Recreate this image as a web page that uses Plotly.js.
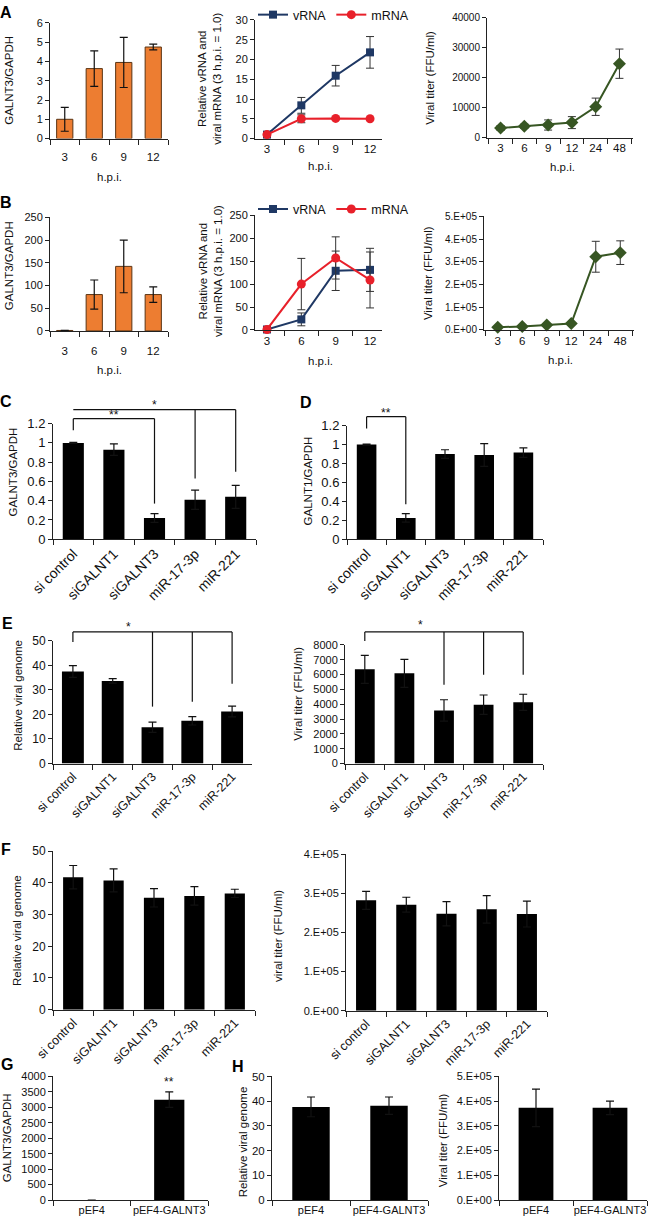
<!DOCTYPE html>
<html><head><meta charset="utf-8">
<script src="https://cdn.plot.ly/plotly-3.0.1.min.js"></script>
<style>html,body{margin:0;padding:0;background:#fff}#plot{width:650px;height:1222px}</style>
</head><body><div id="plot"></div>
<script>
// ---------- DATA ----------
const hpiShort = ['3','6','9','12'];
const hpiLong = ['3','6','9','12','24','48'];
const aGalnt3 = [1.0, 3.63, 3.95, 4.75];
const aGalnt3Err = [0.62, 0.92, 1.3, 0.15];
const aVRNA = [1, 8.4, 15.9, 21.8];
const aVRNAErr = [0.2, 2.0, 2.6, 4.0];
const aMRNA = [1, 5.0, 5.1, 5.0];
const aMRNAErr = [0.2, 1.0, 0.3, 0.3];
const aTiter = [3200, 3800, 4200, 5000, 10300, 24700];
const aTiterErr = [800, 700, 1700, 2000, 2900, 4900];
const bGalnt3 = [1, 80, 142, 80];
const bGalnt3Err = [0.5, 32, 58, 17];
const bVRNA = [1, 23, 129, 131];
const bVRNAErr = [0.5, 14, 43, 47];
const bMRNA = [1, 100, 157, 109];
const bMRNAErr = [0.5, 56, 46, 61];
const bTiter = [12000, 15000, 22000, 28000, 322000, 340000];
const bTiterErr = [3000, 3000, 4000, 4000, 68000, 52000];
const siCats = ['si control','siGALNT1','siGALNT3','miR-17-3p','miR-221'];
const cGalnt3 = [1.0, 0.93, 0.22, 0.41, 0.44];
const cGalnt3Err = [0.005, 0.06, 0.045, 0.1, 0.12];
const dGalnt1 = [1.0, 0.225, 0.9, 0.89, 0.915];
const dGalnt1Err = [0.005, 0.045, 0.045, 0.12, 0.05];
const eGenome = [37.5, 33.7, 14.8, 17.4, 21.2];
const eGenomeErr = [2.4, 0.9, 2.1, 1.7, 2.2];
const eTiter = [6350, 6080, 3580, 3970, 4130];
const eTiterErr = [950, 950, 720, 650, 540];
const fGenome = [41.8, 40.8, 35.3, 35.9, 36.7];
const fGenomeErr = [3.7, 3.6, 2.9, 2.9, 1.3];
const fTiter = [282000, 271000, 248000, 259000, 247000];
const fTiterErr = [23000, 19000, 31000, 35000, 33000];
const gCats = ['pEF4','pEF4-GALNT3'];
const gGalnt3 = [1, 3250];
const gGalnt3Err = [0, 250];
const hGenome = [37.7, 38.2];
const hGenomeErr = [4.0, 3.5];
const hTiter = [373000, 373000];
const hTiterErr = [76000, 27000];
const sciTickVals5 = [0, 100000, 200000, 300000, 400000, 500000];
const sciTickText5 = ['0.E+00','1.E+05','2.E+05','3.E+05','4.E+05','5.E+05'];
const sciTickVals4 = [0, 100000, 200000, 300000, 400000];
const sciTickText4 = ['0.E+00','1.E+05','2.E+05','3.E+05','4.E+05'];

// ---------- LAYOUT HELPERS ----------
const W = 650, H = 1222;
const FONT = 'Liberation Sans, Arial, sans-serif';
const px = x => x / W;
const py = y => 1 - y / H;
const ORANGE = '#ED7D31', NAVY = '#1F3864', RED = '#E8202A', GREEN = '#375623', AX = '#222';

const layout = {
  width: W, height: H, margin: {l:0, r:0, t:0, b:0},
  paper_bgcolor: '#fff', plot_bgcolor: 'rgba(0,0,0,0)',
  font: {family: FONT, size: 11, color: '#111'},
  showlegend: true, annotations: [], shapes: []
};
const data = [];
const panels = {};

function addPanel(n, p) {
  panels[n] = p;
  const xs = n === 1 ? 'xaxis' : 'xaxis' + n;
  const ys = n === 1 ? 'yaxis' : 'yaxis' + n;
  layout[xs] = {
    domain: [px(p.l), px(p.r)], anchor: n === 1 ? 'y' : 'y' + n,
    type: 'category', showline: true, linecolor: AX, linewidth: 1,
    ticks: 'outside', ticklen: 5, tickcolor: AX, tickwidth: 1, tickson: 'boundaries',
    showgrid: false, zeroline: false, fixedrange: true,
    tickangle: p.angle || 0, ticklabelstandoff: p.xstand || 0,
    tickfont: {family: FONT, size: p.xfont || 11.5, color: '#111'}
  };
  const y = {
    domain: [py(p.b), py(p.t)], anchor: n === 1 ? 'x' : 'x' + n,
    range: [0, p.max], showline: true, linecolor: AX, linewidth: 1,
    ticks: 'outside', ticklen: 4, tickcolor: AX, tickwidth: 1,
    showgrid: false, zeroline: false, fixedrange: true,
    tickfont: {family: FONT, size: p.yfont || 11.5, color: '#111'}
  };
  if (p.tickvals) { y.tickmode = 'array'; y.tickvals = p.tickvals; y.ticktext = p.ticktext; }
  else { y.tick0 = 0; y.dtick = p.dtick; if (p.fmt) y.tickformat = p.fmt; }
  layout[ys] = y;
}
const xr = n => n === 1 ? 'x' : 'x' + n;
const yr = n => n === 1 ? 'y' : 'y' + n;

function bar(n, x, y, err, color, width, lineColor) {
  data.push({type:'bar', x, y, xaxis: xr(n), yaxis: yr(n), width, showlegend:false,
    marker:{color, line:{color: lineColor || color, width: lineColor ? 1 : 0}},
    error_y:{type:'data', array: err, visible:true, color:'#111', thickness:1.2, width:4},
    hoverinfo:'skip'});
}
function line(n, x, y, err, color, symbol, size, name, legend) {
  data.push({type:'scatter', mode:'lines+markers', x, y, xaxis: xr(n), yaxis: yr(n),
    name, showlegend: !!legend, legend: legend || 'legend',
    line:{color, width:2}, marker:{color, symbol, size},
    error_y:{type:'data', array: err, visible:true, color:'#333', thickness:1, width:4},
    cliponaxis:false, hoverinfo:'skip'});
}
function ann(text, x, y, o) {
  layout.annotations.push(Object.assign({text, x: px(x), y: py(y), xref:'paper', yref:'paper',
    showarrow:false, xanchor:'center', yanchor:'middle',
    font:{family: FONT, size: 11.5, color:'#111'}}, o || {}));
}
function yTitle(text, x, y) { ann(text, x, y, {textangle: -90}); }
function letter(t, x, y) { ann(t, x, y, {font:{family: FONT, size: 16, color:'#000', weight:'bold'}}); }
function dataPaper(n, v) { const p = panels[n]; return py(p.b - v / p.max * (p.b - p.t)); }
function bracket(n, yLine, i0, i1, drops, label, labelX, labelY) {
  const s = {type:'line', xref: xr(n), yref:'paper', line:{color:'#111', width:1.2}};
  layout.shapes.push(Object.assign({}, s, {x0:i0, x1:i1, y0:py(yLine), y1:py(yLine)}));
  drops.forEach(d => layout.shapes.push(Object.assign({}, s, {x0:d[0], x1:d[0], y0:py(yLine), y1:dataPaper(n, d[1])})));
  layout.annotations.push({text: label, x: labelX, y: py(labelY), xref: xr(n), yref:'paper', showarrow:false,
    xanchor:'center', yanchor:'middle', font:{family: FONT, size: 12, color:'#111'}});
}

// ---------- PANELS ----------
addPanel(1, {l:50, r:168, t:19, b:135, max:6, dtick:1, xstand:8, yfont:11});
addPanel(2, {l:255, r:382, t:16, b:135, max:30, dtick:5, yfont:11});
addPanel(3, {l:487, r:633, t:14, b:134, max:40000, dtick:10000, fmt:'d', yfont:10});
addPanel(4, {l:50, r:168, t:214, b:328, max:250, dtick:50, xstand:9, yfont:11});
addPanel(5, {l:255, r:382, t:212, b:327, max:250, dtick:50, yfont:11});
addPanel(6, {l:484, r:634, t:213, b:327, max:500000, tickvals: sciTickVals5, ticktext: sciTickText5, yfont:10});
addPanel(7, {l:53, r:256, t:421, b:537, max:1.2, dtick:0.2, angle:-45, xfont:14, yfont:13});
addPanel(8, {l:347, r:543, t:423, b:537, max:1.2, dtick:0.2, angle:-45, xfont:14, yfont:13});
addPanel(9, {l:53, r:252, t:639, b:762, max:50, dtick:10, angle:-45, xfont:12.5, yfont:12});
addPanel(10, {l:345, r:543, t:643, b:762, max:8000, dtick:1000, fmt:'d', angle:-45, xfont:12.5, yfont:11});
addPanel(11, {l:53, r:255, t:850, b:1009, max:50, dtick:10, angle:-45, xfont:12.5, yfont:12});
addPanel(12, {l:346, r:547, t:853, b:1010, max:400000, tickvals: sciTickVals4, ticktext: sciTickText4, yfont:11, angle:-45, xfont:12.5});
addPanel(13, {l:53, r:208, t:1076, b:1200, max:4000, dtick:500, fmt:'d', xfont:11, yfont:11});
addPanel(14, {l:272, r:428, t:1076, b:1200, max:50, dtick:10, xfont:11, yfont:11.5});
addPanel(15, {l:499, r:647, t:1076, b:1200, max:500000, tickvals: sciTickVals5, ticktext: sciTickText5, xfont:11, yfont:11});

// ---------- TRACES ----------
bar(1, hpiShort, aGalnt3, aGalnt3Err, ORANGE, 0.55, '#5a3413');
line(2, hpiShort, aVRNA, aVRNAErr, NAVY, 'square', 8, 'vRNA', 'legend');
line(2, hpiShort, aMRNA, aMRNAErr, RED, 'circle', 9, 'mRNA', 'legend');
line(3, hpiLong, aTiter, aTiterErr, GREEN, 'diamond', 10);
bar(4, hpiShort, bGalnt3, bGalnt3Err, ORANGE, 0.55, '#5a3413');
line(5, hpiShort, bVRNA, bVRNAErr, NAVY, 'square', 8, 'vRNA', 'legend2');
line(5, hpiShort, bMRNA, bMRNAErr, RED, 'circle', 9, 'mRNA', 'legend2');
line(6, hpiLong, bTiter, bTiterErr, GREEN, 'diamond', 10);
bar(7, siCats, cGalnt3, cGalnt3Err, '#000', 0.52);
bar(8, siCats, dGalnt1, dGalnt1Err, '#000', 0.5);
bar(9, siCats, eGenome, eGenomeErr, '#000', 0.55);
bar(10, siCats, eTiter, eTiterErr, '#000', 0.5);
bar(11, siCats, fGenome, fGenomeErr, '#000', 0.5);
bar(12, siCats, fTiter, fTiterErr, '#000', 0.5);
bar(13, gCats, gGalnt3, gGalnt3Err, '#000', 0.39);
bar(14, gCats, hGenome, hGenomeErr, '#000', 0.48);
bar(15, gCats, hTiter, hTiterErr, '#000', 0.47);

const legBase = {orientation:'h', xanchor:'left', yanchor:'top', bgcolor:'rgba(0,0,0,0)',
  font:{family: FONT, size: 12.5, color:'#111'}, itemwidth:30, tracegroupgap:0};
layout.legend = Object.assign({}, legBase, {x: px(253), y: py(-4)});
layout.legend2 = Object.assign({}, legBase, {x: px(253), y: py(191)});

// ---------- TEXT ----------
letter('A', 6, 9); letter('B', 6, 199); letter('C', 6, 399); letter('D', 306, 400);
letter('E', 7, 622); letter('F', 6, 848); letter('G', 7, 1064); letter('H', 238, 1066);
const twoLine = 'Relative vRNA and<br>viral mRNA (3 h.p.i. = 1.0)';
yTitle('GALNT3/GAPDH', 9, 77); yTitle(twoLine, 210, 75); yTitle('Viral titer (FFU/ml)', 430, 74);
yTitle('GALNT3/GAPDH', 9, 263); yTitle(twoLine, 210, 268); yTitle('Viral titer (FFU/ml)', 428, 270);
yTitle('GALNT3/GAPDH', 13, 470); yTitle('GALNT1/GAPDH', 308, 479);
yTitle('Relative viral genome', 18, 694); yTitle('Viral titer (FFU/ml)', 298, 692);
yTitle('Relative viral genome', 17, 930); yTitle('viral titer (FFU/ml)', 278, 935);
yTitle('GALNT3/GAPDH', 7, 1138); yTitle('Relative viral genome', 243, 1142); yTitle('Viral titer (FFU/ml)', 443, 1140);
ann('h.p.i.', 109, 174); ann('h.p.i.', 320, 163); ann('h.p.i.', 562, 164);
ann('h.p.i.', 109, 367); ann('h.p.i.', 320, 358); ann('h.p.i.', 560, 357);

bracket(7, 416, 0, 2, [[0, 1.13], [2, 0.37]], '**', 1, 412);
bracket(7, 407, 0, 4, [[3, 0.63], [4, 0.70]], '*', 2, 402);
bracket(8, 414, 0, 1, [[0, 1.17], [1, 0.37]], '**', 0.5, 410);
bracket(9, 630, 0, 4, [[0, 49.6], [2, 23.2], [3, 25.2], [4, 32.5]], '*', 1.4, 625);
bracket(10, 630, 0, 4, [[0, 8270], [2, 5310], [3, 5980], [4, 5980]], '*', 1.4, 623);
layout.annotations.push({text:'**', x:1, y: py(1082), xref: xr(13), yref:'paper', showarrow:false,
  xanchor:'center', yanchor:'middle', font:{family: FONT, size: 12, color:'#111'}});

Plotly.newPlot('plot', data, layout, {staticPlot:true, displayModeBar:false});
</script></body></html>
